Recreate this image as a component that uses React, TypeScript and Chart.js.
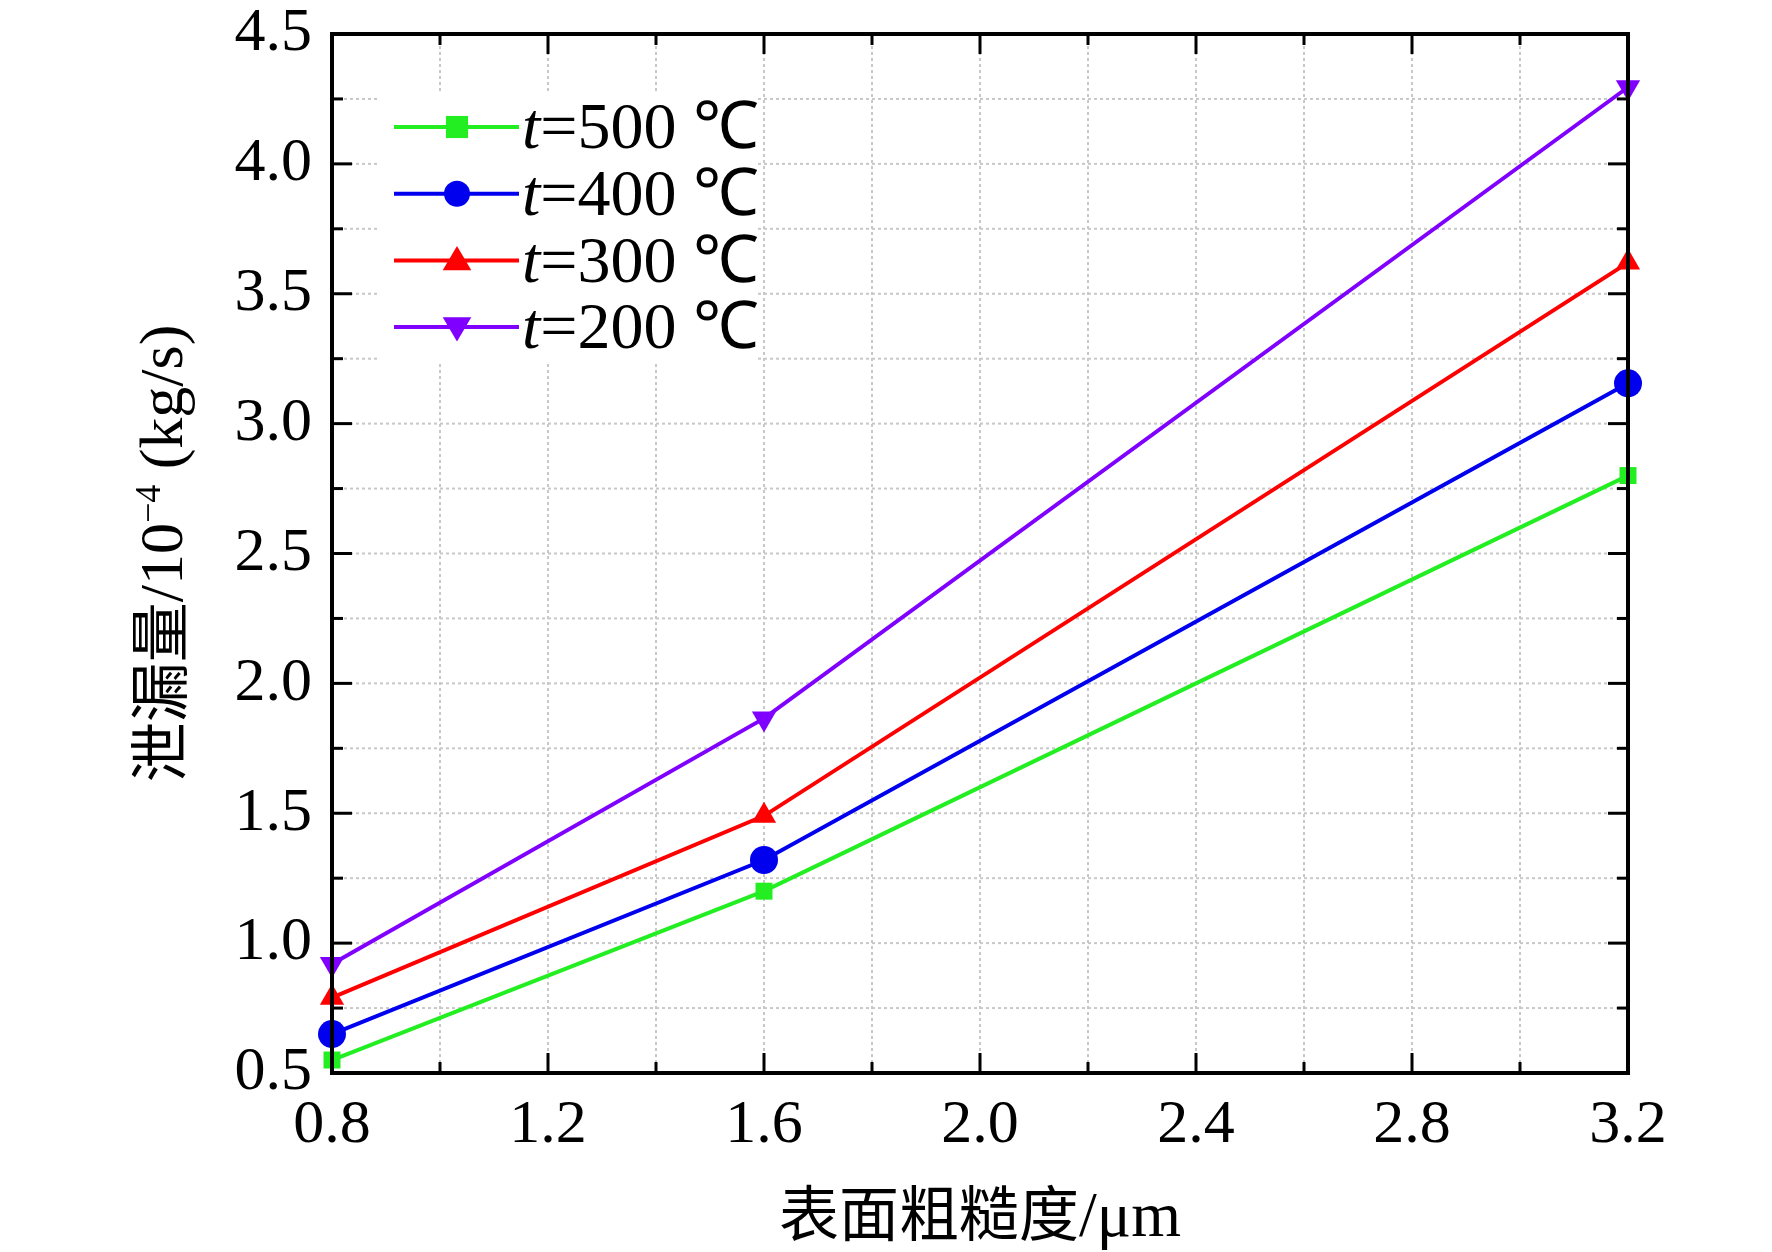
import React, { useEffect, useRef } from "react";
import { Chart, registerables } from "chart.js";
Chart.register(...registerables);

const roughness = [0.8, 1.6, 3.2];
const t500 = [0.55, 1.2, 2.8];
const t400 = [0.65, 1.32, 3.155];
const t300 = [0.79, 1.49, 3.62];
const t200 = [0.92, 1.865, 4.295];
const labels = ["t=500 ℃", "t=400 ℃", "t=300 ℃", "t=200 ℃"];
const colors = ["#22ee22", "#0000ee", "#ff0000", "#8000ff"];
const shapes = ["rect", "circle", "triangle", "triangle"];
const xTicks = [0.8, 1.2, 1.6, 2.0, 2.4, 2.8, 3.2];
const yTicks = [0.5, 1.0, 1.5, 2.0, 2.5, 3.0, 3.5, 4.0, 4.5];

const SERIF = "'Liberation Serif', 'Times New Roman', serif";
const CJK = "'Noto Sans CJK SC', sans-serif";

const drawMarker = (ctx: CanvasRenderingContext2D, shape: string, rot: number, x: number, y: number, r: number, c: string) => {
  ctx.save();
  ctx.fillStyle = c;
  ctx.beginPath();
  if (shape === "rect") ctx.rect(x - r * 0.85, y - r * 0.85, r * 1.7, r * 1.7);
  else if (shape === "circle") ctx.arc(x, y, r, 0, Math.PI * 2);
  else {
    const s = rot ? -1 : 1;
    ctx.moveTo(x, y - s * r * 1.1);
    ctx.lineTo(x + r * 1.1, y + s * r * 0.75);
    ctx.lineTo(x - r * 1.1, y + s * r * 0.75);
    ctx.closePath();
  }
  ctx.fill();
  ctx.restore();
};

const framePlugin = {
  id: "frame",
  beforeDatasetsDraw(chart: any) {
    const { ctx, chartArea: a, scales } = chart;
    const xs = scales.x, ys = scales.y;
    ctx.save();
    ctx.strokeStyle = "#c8c8c8";
    ctx.lineWidth = 2;
    ctx.setLineDash([3, 3]);
    for (let v = 1.0; v < 3.19; v += 0.2) {
      const px = xs.getPixelForValue(v);
      ctx.beginPath(); ctx.moveTo(px, a.top); ctx.lineTo(px, a.bottom); ctx.stroke();
    }
    for (let v = 0.75; v < 4.49; v += 0.25) {
      const py = ys.getPixelForValue(v);
      ctx.beginPath(); ctx.moveTo(a.left, py); ctx.lineTo(a.right, py); ctx.stroke();
    }
    ctx.restore();
    // legend box (under data)
    ctx.save();
    ctx.fillStyle = "#fff";
    ctx.fillRect(380, 92, 378, 270);
    ctx.restore();
  },
  afterDatasetsDraw(chart: any) {
    const { ctx, chartArea: a, scales } = chart;
    const xs = scales.x, ys = scales.y;
    ctx.save();
    const dsets = chart.data.datasets;
    dsets.forEach((d: any, i: number) => {
      const y = 127 + i * 66.7;
      ctx.strokeStyle = d.borderColor;
      ctx.lineWidth = 4;
      ctx.beginPath(); ctx.moveTo(394, y); ctx.lineTo(519, y); ctx.stroke();
      drawMarker(ctx, shapes[i], i === 3 ? 1 : 0, 457, y, 13, d.borderColor);
      ctx.fillStyle = "#000";
      ctx.textBaseline = "middle";
      ctx.textAlign = "left";
      ctx.font = `italic 66px ${SERIF}`;
      ctx.fillText("t", 522, y + 4);
      const tw = ctx.measureText("t").width;
      ctx.font = `66px ${SERIF}`;
      ctx.fillText(labels[i].slice(1), 522 + tw, y + 4);
    });
    ctx.strokeStyle = "#000";
    ctx.lineWidth = 3;
    const tick = (x1: number, y1: number, x2: number, y2: number) => { ctx.beginPath(); ctx.moveTo(x1, y1); ctx.lineTo(x2, y2); ctx.stroke(); };
    for (let k = 0; k <= 12; k++) {
      const v = 0.8 + k * 0.2;
      const px = xs.getPixelForValue(v);
      const L = k % 2 === 0 ? 20 : 11;
      tick(px, a.bottom, px, a.bottom - L);
      tick(px, a.top, px, a.top + L);
    }
    for (let k = 0; k <= 16; k++) {
      const v = 0.5 + k * 0.25;
      const py = ys.getPixelForValue(v);
      const L = k % 2 === 0 ? 20 : 11;
      tick(a.left, py, a.left + L, py);
      tick(a.right, py, a.right - L, py);
    }
    ctx.lineWidth = 4;
    ctx.strokeRect(a.left, a.top, a.right - a.left, a.bottom - a.top);
    ctx.fillStyle = "#000";
    ctx.font = `62px ${SERIF}`;
    ctx.textAlign = "center";
    ctx.textBaseline = "top";
    xTicks.forEach((v) => ctx.fillText(v.toFixed(1), xs.getPixelForValue(v), a.bottom + 22));
    ctx.textAlign = "right";
    ctx.textBaseline = "middle";
    yTicks.forEach((v) => ctx.fillText(v.toFixed(1), a.left - 20, ys.getPixelForValue(v)));
    ctx.textAlign = "left";
    ctx.textBaseline = "alphabetic";
    const p1 = "表面粗糙度";
    ctx.font = `60px ${CJK}`;
    const w1 = ctx.measureText(p1).width;
    ctx.font = `64px ${SERIF}`;
    const w2 = ctx.measureText("/μm").width;
    const sx = (a.left + a.right) / 2 - (w1 + w2) / 2;
    ctx.font = `60px ${CJK}`;
    ctx.fillText(p1, sx, 1236);
    ctx.font = `64px ${SERIF}`;
    ctx.fillText("/μm", sx + w1, 1236);
    ctx.translate(182, (a.top + a.bottom) / 2);
    ctx.rotate(-Math.PI / 2);
    const parts: [string, string][] = [["泄漏量", `60px ${CJK}`], ["/10", `62px ${SERIF}`], ["−4", `36px ${SERIF}`], [" (kg/s)", `62px ${SERIF}`]];
    let tot = 0;
    parts.forEach(([s, f]) => { ctx.font = f; tot += ctx.measureText(s).width; });
    let cx = -tot / 2;
    parts.forEach(([s, f]) => {
      ctx.font = f;
      ctx.fillText(s, cx, s === "−4" ? -22 : 0);
      cx += ctx.measureText(s).width;
    });
    ctx.restore();
  },
};

export default function App() {
  const ref = useRef<HTMLCanvasElement>(null);
  useEffect(() => {
    const series = [t500, t400, t300, t200];
    const chart = new Chart(ref.current!, {
      type: "line",
      data: {
        datasets: series.map((s, i) => ({
          label: labels[i],
          data: s.map((v, j) => ({ x: roughness[j], y: v })),
          borderColor: colors[i],
          backgroundColor: colors[i],
          borderWidth: 4,
          pointStyle: shapes[i] as any,
          pointRotation: i === 3 ? 180 : 0,
          pointRadius: i === 0 ? 12 : 14,
          pointBorderWidth: 0,
          clip: false as any,
        })),
      },
      options: {
        animation: false,
        responsive: false,
        layout: { padding: { left: 332, right: 144, top: 34, bottom: 179 } },
        plugins: { legend: { display: false }, tooltip: { enabled: false } },
        scales: {
          x: { type: "linear", min: 0.8, max: 3.2, display: false },
          y: { type: "linear", min: 0.5, max: 4.5, display: false },
        },
      },
      plugins: [framePlugin],
    });
    return () => chart.destroy();
  }, []);
  return (
    <div style={{ position: "absolute", left: 0, top: 0, background: "#fff" }}>
      <canvas ref={ref} width={1772} height={1252} style={{ width: 1772, height: 1252, display: "block" }} />
    </div>
  );
}
